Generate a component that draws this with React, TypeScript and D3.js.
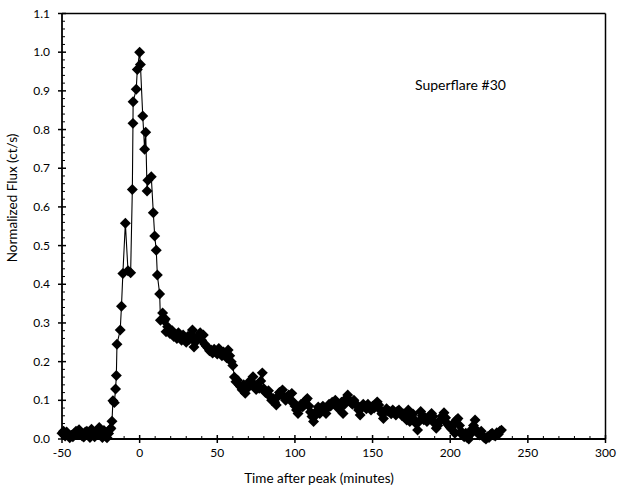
import React from "react";
import * as d3 from "d3";

const times: number[] = [
  -50, -49, -48, -47, -46, -45, -44, -43, -42, -41, -40, -39, -38, -37, -36, -35, -34, -33, -32, -31,
  -30, -29, -28, -27, -26, -25, -24, -23, -22, -21, -20, -19, -18.5, -17.8, -17.2, -16.3, -15.5, -15,
  -14.6, -12.5, -11.7, -10.8, -9.2, -7.5, -5.8, -4.7, -4.3, -4.2, -2.2, -1.5, 0, 0.5, 2, 3.2, 3.9,
  4.8, 5.3, 7.5, 8.8, 9.7, 10.7, 11.4, 12.9, 13.4, 14.8, 15.8, 16.5, 17, 18, 19.5, 21, 22, 23, 24,
  25, 26, 27, 28, 29, 30, 31, 32, 33, 34, 35, 35.8, 37, 38, 39, 40, 41, 42, 43, 44, 45, 46, 47, 48,
  49, 50, 51, 52, 53, 54, 55, 56, 57, 58, 59, 60, 61, 62, 63, 64, 65, 66, 67, 68, 69, 70, 71, 72,
  73, 74, 75, 76, 77, 78, 79, 80, 81, 82, 83, 84, 85, 86, 87, 88, 89, 90, 91, 92, 93, 94, 95, 96,
  97, 98, 99, 100, 101, 102, 103, 104, 105, 106, 107, 108, 109, 110, 111, 112, 113, 114, 115, 116,
  117, 118, 119, 120, 121, 122, 123, 124, 125, 126, 127, 128, 129, 130, 131, 132, 133, 134, 135,
  136, 137, 138, 139, 140, 141, 142, 143, 144, 145, 146, 147, 148, 149, 150, 151, 152, 153, 154,
  155, 156, 157, 158, 159, 160, 161, 162, 163, 164, 165, 166, 167, 168, 169, 170, 171, 172, 173,
  174, 175, 176, 177, 178, 179, 180, 181, 182, 183, 184, 185, 186, 187, 188, 189, 190, 191, 192,
  193, 194, 195, 196, 197, 198, 199, 200, 201, 202, 203, 204, 205, 206, 207, 208, 209, 210, 211,
  212, 213, 214, 215, 216, 217, 218, 219, 220, 221, 222, 223, 224, 225, 226, 227, 228, 229, 230,
  231, 232, 233,
];

const flux: number[] = [
  0.015, 0.02, 0.008, 0.018, 0.012, 0.003, 0.01, 0.006, 0.015, 0.02, 0.012, 0.024, 0.016, 0.008,
  0.005, 0.018, 0.02, 0.01, 0.004, 0.025, 0.014, 0.006, 0.02, 0.012, 0.03, 0.018, 0.004, 0.022,
  0.008, 0.003, 0.014, 0.025, 0.028, 0.046, 0.099, 0.094, 0.129, 0.164, 0.245, 0.282, 0.343,
  0.428, 0.558, 0.435, 0.43, 0.645, 0.816, 0.872, 0.904, 0.955, 1.0, 0.968, 0.835, 0.749, 0.793,
  0.641, 0.669, 0.678, 0.585, 0.525, 0.488, 0.424, 0.375, 0.307, 0.326, 0.306, 0.31, 0.277, 0.29,
  0.273, 0.28, 0.265, 0.27, 0.26, 0.275, 0.265, 0.255, 0.269, 0.26, 0.25, 0.265, 0.258, 0.27,
  0.282, 0.238, 0.25, 0.26, 0.268, 0.275, 0.255, 0.269, 0.245, 0.24, 0.235, 0.228, 0.23, 0.222,
  0.232, 0.225, 0.22, 0.234, 0.228, 0.215, 0.225, 0.22, 0.21, 0.23, 0.215, 0.2, 0.19, 0.16, 0.148,
  0.152, 0.14, 0.135, 0.127, 0.14, 0.118, 0.13, 0.135, 0.15, 0.145, 0.161, 0.14, 0.128, 0.135,
  0.131, 0.15, 0.171, 0.13, 0.12, 0.118, 0.125, 0.11, 0.1, 0.105, 0.095, 0.088, 0.11, 0.12, 0.115,
  0.127, 0.11, 0.1, 0.108, 0.114, 0.1, 0.118, 0.095, 0.085, 0.075, 0.066, 0.08, 0.09, 0.083, 0.095,
  0.1, 0.105, 0.085, 0.07, 0.058, 0.045, 0.06, 0.072, 0.083, 0.066, 0.075, 0.085, 0.078, 0.066,
  0.08, 0.09, 0.085, 0.095, 0.092, 0.1, 0.088, 0.079, 0.085, 0.095, 0.066, 0.09, 0.105, 0.114, 0.1,
  0.095, 0.09, 0.1, 0.092, 0.085, 0.075, 0.062, 0.08, 0.09, 0.085, 0.078, 0.09, 0.083, 0.075,
  0.085, 0.08, 0.09, 0.096, 0.088, 0.075, 0.065, 0.053, 0.07, 0.078, 0.072, 0.071, 0.065, 0.075,
  0.07, 0.062, 0.072, 0.075, 0.068, 0.06, 0.065, 0.055, 0.049, 0.075, 0.045, 0.06, 0.065, 0.05,
  0.04, 0.023, 0.045, 0.071, 0.06, 0.05, 0.055, 0.045, 0.05, 0.06, 0.066, 0.058, 0.04, 0.028,
  0.035, 0.045, 0.05, 0.06, 0.068, 0.055, 0.04, 0.035, 0.03, 0.025, 0.04, 0.015, 0.049, 0.053,
  0.035, 0.02, 0.01, 0.006, 0.015, 0.003, 0.0, 0.012, 0.025, 0.035, 0.049, 0.023, 0.015, 0.01,
  0.02, 0.008, 0.003, 0.0, 0.006, 0.004, 0.012, 0.015, 0.01, 0.008, 0.016, 0.012, 0.02, 0.023,
];

const xMajorTicks: number[] = [-50, 0, 50, 100, 150, 200, 250, 300];
const yMajorTicks: number[] = [0, 0.1, 0.2, 0.3, 0.4, 0.5, 0.6, 0.7, 0.8, 0.9, 1.0, 1.1];
const xTitle = "Time after peak (minutes)";
const yTitle = "Normalized Flux (ct/s)";
const annotation = "Superflare #30";

const W = 617;
const H = 492;
const left = 62;
const right = 605.5;
const top = 13.5;
const bottom = 439;

export default function App() {
  const x = d3.scaleLinear().domain([-50, 300]).range([left, right]);
  const y = d3.scaleLinear().domain([0, 1.1]).range([bottom, top]);
  const pts = times.map((t, i) => [t, flux[i]] as [number, number]);
  const line = d3
    .line<[number, number]>()
    .x((d) => x(d[0]))
    .y((d) => y(d[1]));
  const diamond = d3.symbol().type(d3.symbolSquare).size(60)();
  const xMinor = d3.range(-50, 300.001, 10).filter((v) => v % 50 !== 0);
  const yMinor = d3.range(0, 1.1001, 0.02).filter((_, i) => i % 5 !== 0);
  const font = "Lato, 'Open Sans', sans-serif";
  return (
    <div style={{ position: "absolute", left: 0, top: 0 }}>
      <svg width={W} height={H} style={{ display: "block", background: "#fff" }}>
        <rect x={0} y={0} width={W} height={H} fill="#fff" />
        <path d={line(pts) || ""} fill="none" stroke="#000" strokeWidth={1.1} />
        {pts.map((d, i) => (
          <path
            key={i}
            d={diamond || ""}
            transform={`translate(${x(d[0])},${y(d[1])}) rotate(45)`}
            fill="#000"
          />
        ))}
        {/* frame */}
        <line x1={left} x2={right} y1={top} y2={top} stroke="#000" strokeWidth={1.5} />
        <line x1={right} x2={right} y1={top} y2={bottom} stroke="#000" strokeWidth={1.5} />
        <line x1={left} x2={right} y1={bottom} y2={bottom} stroke="#000" strokeWidth={1.8} />
        <line x1={left} x2={left} y1={top} y2={bottom} stroke="#000" strokeWidth={1.8} />
        {/* x ticks */}
        {xMajorTicks.map((t) => (
          <g key={"xm" + t}>
            <line x1={x(t)} x2={x(t)} y1={bottom - 4} y2={bottom + 4} stroke="#000" strokeWidth={1.5} />
            <text
              x={x(t)}
              y={bottom + 18}
              textAnchor="middle"
              fontFamily={font}
              fontSize={12}
              fill="#000"
            >
              {t}
            </text>
          </g>
        ))}
        {xMinor.map((t) => (
          <line key={"xn" + t} x1={x(t)} x2={x(t)} y1={bottom - 3} y2={bottom} stroke="#000" strokeWidth={1} />
        ))}
        {/* y ticks */}
        {yMajorTicks.map((t) => (
          <g key={"ym" + t}>
            <line x1={left - 4} x2={left + 4} y1={y(t)} y2={y(t)} stroke="#000" strokeWidth={1.5} />
            <text
              x={left - 12}
              y={y(t) + 4}
              textAnchor="end"
              fontFamily={font}
              fontSize={12}
              fill="#000"
            >
              {t.toFixed(1)}
            </text>
          </g>
        ))}
        {yMinor.map((t, i) => (
          <line key={"yn" + i} x1={left} x2={left + 3} y1={y(t)} y2={y(t)} stroke="#000" strokeWidth={1} />
        ))}
        <text
          x={319}
          y={483}
          textAnchor="middle"
          fontFamily={font}
          fontSize={13.5}
          fill="#000"
        >
          {xTitle}
        </text>
        <text
          transform={`translate(17,198) rotate(-90)`}
          textAnchor="middle"
          fontFamily={font}
          fontSize={13.5}
          fill="#000"
        >
          {yTitle}
        </text>
        <text x={415} y={90} fontFamily={font} fontSize={14} fill="#000">
          {annotation}
        </text>
      </svg>
    </div>
  );
}
